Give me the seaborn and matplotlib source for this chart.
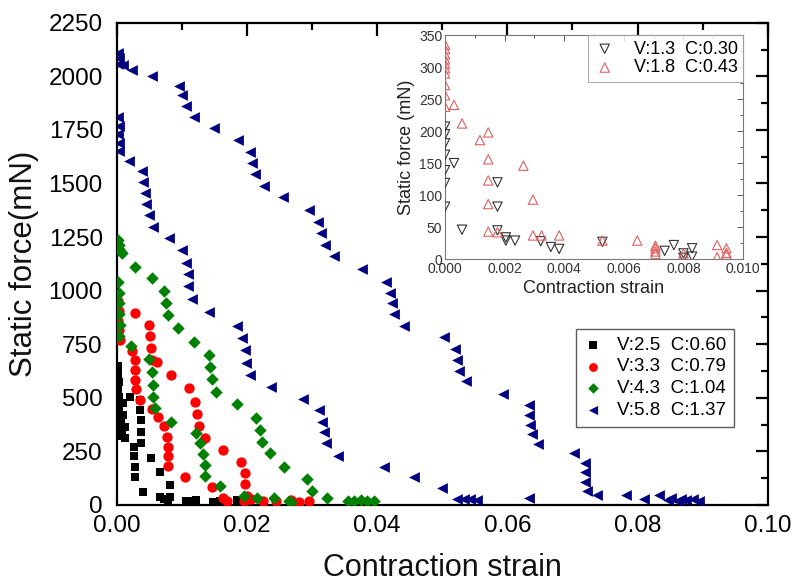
import matplotlib
matplotlib.use("Agg")
import matplotlib.pyplot as plt
from matplotlib.ticker import MultipleLocator
import seaborn as sns
import pandas as pd

# ---- main plot data (contraction strain, static force in mN) ----
labels_main = ['V:2.5  C:0.60', 'V:3.3  C:0.79', 'V:4.3  C:1.04', 'V:5.8  C:1.37']

black_x = [0.0002, 0.0002, 0.0003, 0.0002, 0.0003, 0.0004, 0.0003, 0.0005, 0.0006, 0.0008, 0.0005,
           0.002, 0.0036, 0.0036, 0.0038, 0.0038, 0.0038, 0.0052, 0.0067, 0.0082, 0.0082, 0.0107,
           0.0114, 0.0122, 0.0148, 0.0158, 0.0185, 0.0194,
           0.001, 0.001, 0.0013, 0.0013, 0.0026, 0.0026, 0.0028, 0.0028, 0.0041, 0.0067, 0.0072, 0.0078]
black_y = [650, 610, 575, 540, 505, 470, 440, 410, 380, 350, 320,
           505, 490, 443, 397, 342, 288, 218, 155, 93, 35, 20,
           18, 22, 15, 18, 22, 20,
           475, 420, 365, 310, 272, 226, 179, 132, 62, 35, 25, 20]

red_x = [0.0002, 0.0003, 0.0002, 0.0004, 0.0005,
         0.0028, 0.0049, 0.0051, 0.0052, 0.0054, 0.0062, 0.0084, 0.0111, 0.012, 0.0124, 0.0127,
         0.0135, 0.0164, 0.0191, 0.0197, 0.0197, 0.02, 0.0206, 0.0225, 0.0245, 0.0268, 0.028, 0.0295,
         0.0023, 0.0028, 0.0028, 0.0028, 0.003, 0.0036, 0.0054, 0.0064, 0.0073, 0.0077, 0.0079,
         0.0079, 0.0079, 0.0105, 0.0146, 0.0164, 0.017, 0.0195]
red_y = [950, 905, 860, 815, 770,
         895, 840, 786, 731, 677, 669, 607, 545, 482, 425, 369,
         311, 257, 202, 148, 97, 39, 25, 20, 18, 22, 15, 20,
         720, 677, 630, 583, 540, 490, 447, 412, 366, 319,
         272, 226, 182, 132, 83, 31, 20, 18]

green_x = [0.0002, 0.0003, 0.0004, 0.0006,
           0.0008, 0.0028, 0.0054, 0.0072, 0.0076, 0.0078, 0.0094, 0.0118, 0.0141, 0.0143, 0.0146,
           0.0153, 0.0185, 0.0214, 0.022, 0.0223, 0.0236, 0.0257, 0.0292, 0.03, 0.0323, 0.0355,
           0.0365, 0.0375, 0.0385, 0.0395,
           0.0002, 0.0003, 0.0004, 0.0003, 0.0005, 0.0004,
           0.0022, 0.0049, 0.0054, 0.0056, 0.0056, 0.0059, 0.0084, 0.0122, 0.0128, 0.0133, 0.0136,
           0.0136, 0.0159, 0.0195, 0.0215, 0.0241, 0.0265, 0.0268]
green_y = [1237, 1215, 1195, 1180,
           1175, 1110, 1058, 1000, 944, 887, 825, 762, 700, 643, 588,
           529, 471, 405, 350, 293, 241, 176, 120, 67, 31, 20,
           18, 22, 18, 20,
           1040, 990, 940, 890, 840, 790,
           742, 680, 618, 560, 505, 451, 389, 335, 288, 238, 187,
           135, 89, 39, 30, 31, 20, 12]

navy_x = [0.0002, 0.0003, 0.0002, 0.001, 0.0023, 0.0054, 0.0095, 0.01, 0.0107, 0.0119, 0.015,
          0.0187, 0.0205, 0.0208, 0.0213, 0.0226, 0.0255, 0.0296, 0.0309, 0.0313, 0.032, 0.0334,
          0.0377, 0.0413, 0.0419, 0.0423, 0.0426, 0.0442, 0.0502, 0.052, 0.0523, 0.0526, 0.0536,
          0.0594, 0.0633, 0.0633, 0.0635, 0.0638, 0.0647, 0.0702, 0.072, 0.072, 0.072, 0.0723,
          0.0738, 0.0782, 0.081, 0.0833, 0.0846, 0.0852, 0.0862, 0.0866, 0.0875, 0.0885, 0.0895,
          0.0002, 0.0003, 0.0002, 0.0004, 0.0003, 0.0019, 0.0039, 0.0041, 0.0044, 0.0045, 0.0049,
          0.0056, 0.0081, 0.01, 0.0106, 0.0109, 0.011, 0.0115, 0.0142, 0.0184, 0.0192, 0.0197,
          0.0198, 0.0204, 0.0237, 0.0286, 0.031, 0.0315, 0.0319, 0.0322, 0.034, 0.041, 0.0456,
          0.05, 0.0523, 0.0533, 0.0543, 0.0554, 0.0633]
navy_y = [2110, 2085, 2060, 2054, 2031, 2000, 1957, 1911, 1862, 1810, 1758,
          1701, 1645, 1595, 1544, 1489, 1436, 1377, 1322, 1268, 1214, 1162,
          1100, 1042, 991, 941, 892, 836, 783, 728, 677, 627, 576,
          518, 467, 420, 373, 331, 285, 241, 197, 155, 109, 67,
          47, 47, 27, 47, 22, 30, 20, 28, 22, 25, 20,
          1810, 1770, 1730, 1690, 1650, 1606, 1556, 1505, 1455, 1405, 1354,
          1299, 1245, 1190, 1128, 1078, 1022, 960, 901, 836, 778, 724,
          664, 607, 552, 493, 443, 389, 342, 288, 230, 179, 132,
          78, 25, 25, 25, 22, 31]

# ---- inset data ----
labels_inset = ['V:1.3  C:0.30', 'V:1.8  C:0.43']
in_black_x = [0.0, 0.0, 0.0, 0.0, 0.0, 0.0, 0.0,
              0.0003, 0.00057, 0.00176, 0.00176, 0.00176, 0.00204, 0.00204, 0.00235, 0.00321,
              0.00355, 0.00383, 0.00528, 0.00737, 0.00768, 0.008, 0.00829, 0.00829, 0.008]
in_black_y = [207, 195, 181, 163, 139, 119, 82,
              150, 46, 120, 82, 45, 34, 29, 29, 28,
              19, 16, 27, 13, 22, 9, 17, 4, 2]
in_red_x = [0.0, 0.0, 0.0, 0.0, 0.0, 0.0, 0.0, 0.0, 0.0, 0.0,
            0.0003, 0.00057, 0.00117, 0.00145, 0.00145, 0.00145, 0.00145, 0.00145, 0.00176,
            0.00263, 0.00295, 0.00295, 0.00324, 0.00383, 0.00528, 0.00645, 0.00706, 0.00706,
            0.00706, 0.00706, 0.008, 0.00913, 0.00913, 0.00944, 0.00944, 0.00944]
in_red_y = [335, 328, 320, 312, 305, 298, 290, 272, 256, 238,
            241, 212, 186, 198, 156, 123, 86, 43, 42,
            146, 93, 37, 37, 37, 29, 29, 21, 17,
            12, 8, 9, 22, 3, 17, 10, 7]

sns.set_theme(style='white')
plt.rcParams['font.family'] = ['Liberation Sans', 'DejaVu Sans']
plt.rcParams['text.color'] = 'black'
plt.rcParams['axes.labelcolor'] = 'black'

fig = plt.figure(figsize=(7.94, 5.85), dpi=100)
ax = fig.add_axes([0.147, 0.137, 0.820, 0.824])

main_series = [(black_x, black_y, 'black', 's', 40),
               (red_x, red_y, '#ff0000', 'o', 55),
               (green_x, green_y, '#008000', 'D', 40),
               (navy_x, navy_y, '#000080', '<', 60)]
for (xs, ys, col, mk, sz), lab in zip(main_series, labels_main):
    df = pd.DataFrame({'strain': xs, 'force': ys})
    sns.scatterplot(data=df, x='strain', y='force', ax=ax, color=col, marker=mk,
                    s=sz, linewidth=0, label=lab, zorder=3)

ax.set_xlim(0, 0.10)
ax.set_ylim(0, 2250)
ax.xaxis.set_major_locator(MultipleLocator(0.02))
ax.xaxis.set_minor_locator(MultipleLocator(0.01))
ax.yaxis.set_major_locator(MultipleLocator(250))
ax.yaxis.set_minor_locator(MultipleLocator(125))
ax.set_xticklabels([f'{v:.2f}' for v in ax.get_xticks()])
ax.tick_params(which='both', direction='in', top=True, right=True, colors='black',
               labelsize=17.5, width=1.6)
ax.tick_params(which='major', length=9)
ax.tick_params(which='minor', length=5)
ax.tick_params(axis='y', pad=10)
ax.tick_params(axis='x', pad=7)
for sp in ax.spines.values():
    sp.set_color('black')
    sp.set_linewidth(1.6)
ax.set_xlabel('Contraction strain', fontsize=22, labelpad=12, color='#111111')
ax.set_ylabel('Static force(mN)', fontsize=22.5, labelpad=7, color='#111111')

leg = ax.legend(loc='lower right', bbox_to_anchor=(0.962, 0.143), fontsize=13.5,
                frameon=True, fancybox=False, edgecolor='#333333', markerscale=0.85,
                handlelength=1.0, handletextpad=0.8, labelspacing=0.25, borderpad=0.4)
leg.get_frame().set_linewidth(1.0)

# ---- inset ----
ins = fig.add_axes([0.5605, 0.557, 0.3753, 0.383])
ins.set_facecolor('white')
inset_series = [(in_black_x, in_black_y, '#333333', 'v'),
                (in_red_x, in_red_y, '#e06060', '^')]
for (xs, ys, col, mk), lab in zip(inset_series, labels_inset):
    df = pd.DataFrame({'strain': xs, 'force': ys})
    sns.scatterplot(data=df, x='strain', y='force', ax=ins, marker=mk, s=45,
                    facecolor='none', edgecolor=col, linewidth=0.8, label=lab, zorder=3)
ins.set_xlim(0, 0.010)
ins.set_ylim(0, 350)
ins.xaxis.set_major_locator(MultipleLocator(0.002))
ins.xaxis.set_minor_locator(MultipleLocator(0.001))
ins.yaxis.set_major_locator(MultipleLocator(50))
ins.yaxis.set_minor_locator(MultipleLocator(25))
ins.set_xticklabels([f'{v:.3f}' for v in ins.get_xticks()])
ins.tick_params(which='both', direction='in', top=True, right=True, colors='#555555',
                labelcolor='#333333', labelsize=10, width=0.7, pad=2)
ins.tick_params(which='major', length=4)
ins.tick_params(which='minor', length=2)
for sp in ins.spines.values():
    sp.set_color('#777777')
    sp.set_linewidth(0.8)
ins.set_xlabel('Contraction strain', fontsize=13, color='#222222', labelpad=3)
ins.set_ylabel('Static force (mN)', fontsize=13, color='#222222', labelpad=3)
ileg = ins.legend(loc='upper right', borderaxespad=0, fontsize=13, frameon=True,
                  fancybox=False, edgecolor='#999999', handlelength=1.2,
                  handletextpad=1.0, labelspacing=0.1, borderpad=0.3)
ileg.get_frame().set_linewidth(0.8)

fig.savefig('out.png', dpi=100)
